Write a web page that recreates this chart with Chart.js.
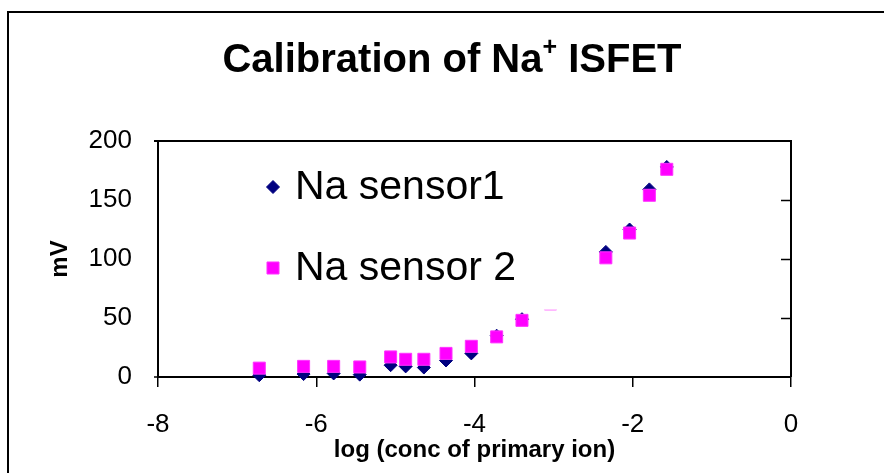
<!DOCTYPE html>
<html>
<head>
<meta charset="utf-8">
<script src="https://cdn.jsdelivr.net/npm/chart.js@4"></script>
<style>
  html, body { margin: 0; padding: 0; background: #fff; }
  #wrap { width: 884px; height: 473px; }
</style>
</head>
<body>
<div id="wrap"><canvas id="naChart" width="884" height="473"></canvas></div>
<script>
// log of primary ion concentration and sensor response (mV)
const logConc = [-6.72, -6.16, -5.78, -5.45, -5.06, -4.87, -4.64, -4.36, -4.04, -3.72, -3.40, -3.04, -2.34, -2.04, -1.79, -1.57];
const sensor1 = [1.5, 2.5, 3, 2, 10, 9, 8, 14, 20, 35, 49, 64, 106, 125, 159, 178];
const sensor2 = [7.5, 9, 9, 8.5, 17, 15, 15, 20, 26, 34, 48, 62, 101, 122, 154, 176];
const xTicks = [-8, -6, -4, -2, 0];
const yTicks = [0, 50, 100, 150, 200];
const seriesNames = ['Na sensor1', 'Na sensor 2'];

const FONT = '"Liberation Sans", Arial, sans-serif';

// Excel style frame, title and the white legend box inside the plot
const framePlugin = {
    id: 'frame',
    beforeDraw(chart) {
        const ctx = chart.ctx;
        ctx.save();
        ctx.fillStyle = '#fff';
        ctx.fillRect(0, 0, chart.width, chart.height);
        ctx.strokeStyle = '#000';
        ctx.lineWidth = 2;
        ctx.strokeRect(8, 12, chart.width + 20, chart.height + 20);
        ctx.restore();
    },
    afterDatasetsDraw(chart) {
        const ctx = chart.ctx;
        const a = chart.chartArea;
        const y = chart.scales.y;
        ctx.save();
        ctx.fillStyle = '#fff';
        ctx.fillRect(a.left + 2, a.top, 580 - a.left - 2, y.getPixelForValue(57) - a.top);
        // legend entries
        const rows = [187, 268];
        chart.data.datasets.forEach((ds, i) => {
            ctx.fillStyle = ds.backgroundColor;
            ctx.strokeStyle = ds.borderColor;
            ctx.lineWidth = 1;
            Chart.helpers.drawPoint(ctx, {
                pointStyle: ds.pointStyle, radius: ds.pointRadius, rotation: 0, borderWidth: 1
            }, 273, rows[i]);
            ctx.fillStyle = '#000';
            ctx.font = '41px ' + FONT;
            ctx.textBaseline = 'middle';
            ctx.textAlign = 'left';
            ctx.fillText(seriesNames[i], 295, rows[i] + 1);
        });
        ctx.restore();
    },
    afterDraw(chart) {
        const ctx = chart.ctx;
        const a = chart.chartArea;
        const y = chart.scales.y;
        ctx.save();
        ctx.strokeStyle = '#000';
        ctx.lineWidth = 2;
        ctx.beginPath();
        ctx.moveTo(a.left - 4, a.top);
        ctx.lineTo(a.right, a.top);
        ctx.lineTo(a.right, a.bottom);
        ctx.stroke();
        ctx.lineWidth = 1.5;
        ctx.beginPath();
        yTicks.slice(1, -1).forEach(v => {
            const py = Math.round(y.getPixelForValue(v)) + 0.5;
            ctx.moveTo(a.right - 10, py);
            ctx.lineTo(a.right, py);
        });
        ctx.moveTo(a.left - 4, a.bottom);
        ctx.lineTo(a.left, a.bottom);
        ctx.stroke();

        // title with superscript
        const p1 = 'Calibration of Na', sup = '+', p2 = ' ISFET';
        const big = 'bold 40px ' + FONT, small = 'bold 25px ' + FONT;
        ctx.font = big;
        const w1 = ctx.measureText(p1).width, w3 = ctx.measureText(p2).width;
        ctx.font = small;
        const w2 = ctx.measureText(sup).width;
        let x = 452 - (w1 + w2 + w3) / 2;
        ctx.fillStyle = '#000';
        ctx.textBaseline = 'alphabetic';
        ctx.textAlign = 'left';
        ctx.font = big;
        ctx.fillText(p1, x, 72);
        x += w1;
        ctx.font = small;
        ctx.fillText(sup, x, 55);
        x += w2;
        ctx.font = big;
        ctx.fillText(p2, x, 72);
        ctx.restore();
    }
};

const ctx = document.getElementById('naChart').getContext('2d');
const naChart = new Chart(ctx, {
    type: 'scatter',
    data: {
        datasets: [{
            label: seriesNames[0],
            data: logConc.map((v, i) => ({ x: v, y: sensor1[i] })),
            pointStyle: 'rectRot',
            pointRadius: 6.5,
            pointHoverRadius: 6.5,
            backgroundColor: '#000080',
            borderColor: '#000080',
            borderWidth: 1,
            order: 2,
            clip: false
        }, {
            label: seriesNames[1],
            data: logConc.map((v, i) => ({ x: v, y: sensor2[i] })),
            pointStyle: 'rect',
            pointRadius: 8.5,
            pointHoverRadius: 8.5,
            backgroundColor: '#ff00ff',
            borderColor: '#ff33ff',
            borderWidth: 1,
            order: 1,
            clip: false
        }]
    },
    options: {
        responsive: false,
        animation: false,
        events: [],
        layout: { padding: { left: 0, top: 141, right: 93, bottom: 0 } },
        plugins: {
            legend: { display: false },
            title: { display: false },
            tooltip: { enabled: false }
        },
        scales: {
            x: {
                type: 'linear',
                min: -8,
                max: 0,
                afterBuildTicks: s => { s.ticks = xTicks.map(v => ({ value: v })); },
                afterFit: s => { s.height = 96; },
                grid: { drawOnChartArea: false, drawTicks: true, tickLength: 10, color: '#000', lineWidth: 1.5 },
                border: { display: true, color: '#000', width: 2 },
                ticks: { color: '#000', font: { family: FONT, size: 26 }, padding: 22, maxRotation: 0 },
                title: { display: true, text: 'log (conc of primary ion)', color: '#000', font: { family: FONT, size: 24, weight: 'bold' }, padding: { top: 0, bottom: 8 } }
            },
            y: {
                type: 'linear',
                min: 0,
                max: 200,
                afterBuildTicks: s => { s.ticks = yTicks.map(v => ({ value: v })); },
                afterFit: s => { s.width = 158; },
                grid: { drawOnChartArea: false, drawTicks: false },
                border: { display: true, color: '#000', width: 2 },
                ticks: { color: '#000', font: { family: FONT, size: 26 }, padding: 26 },
                title: { display: true, text: 'mV', color: '#000', font: { family: FONT, size: 24, weight: 'bold' }, padding: { top: 46, bottom: 0 } }
            }
        }
    },
    plugins: [framePlugin]
});
</script>
</body>
</html>
